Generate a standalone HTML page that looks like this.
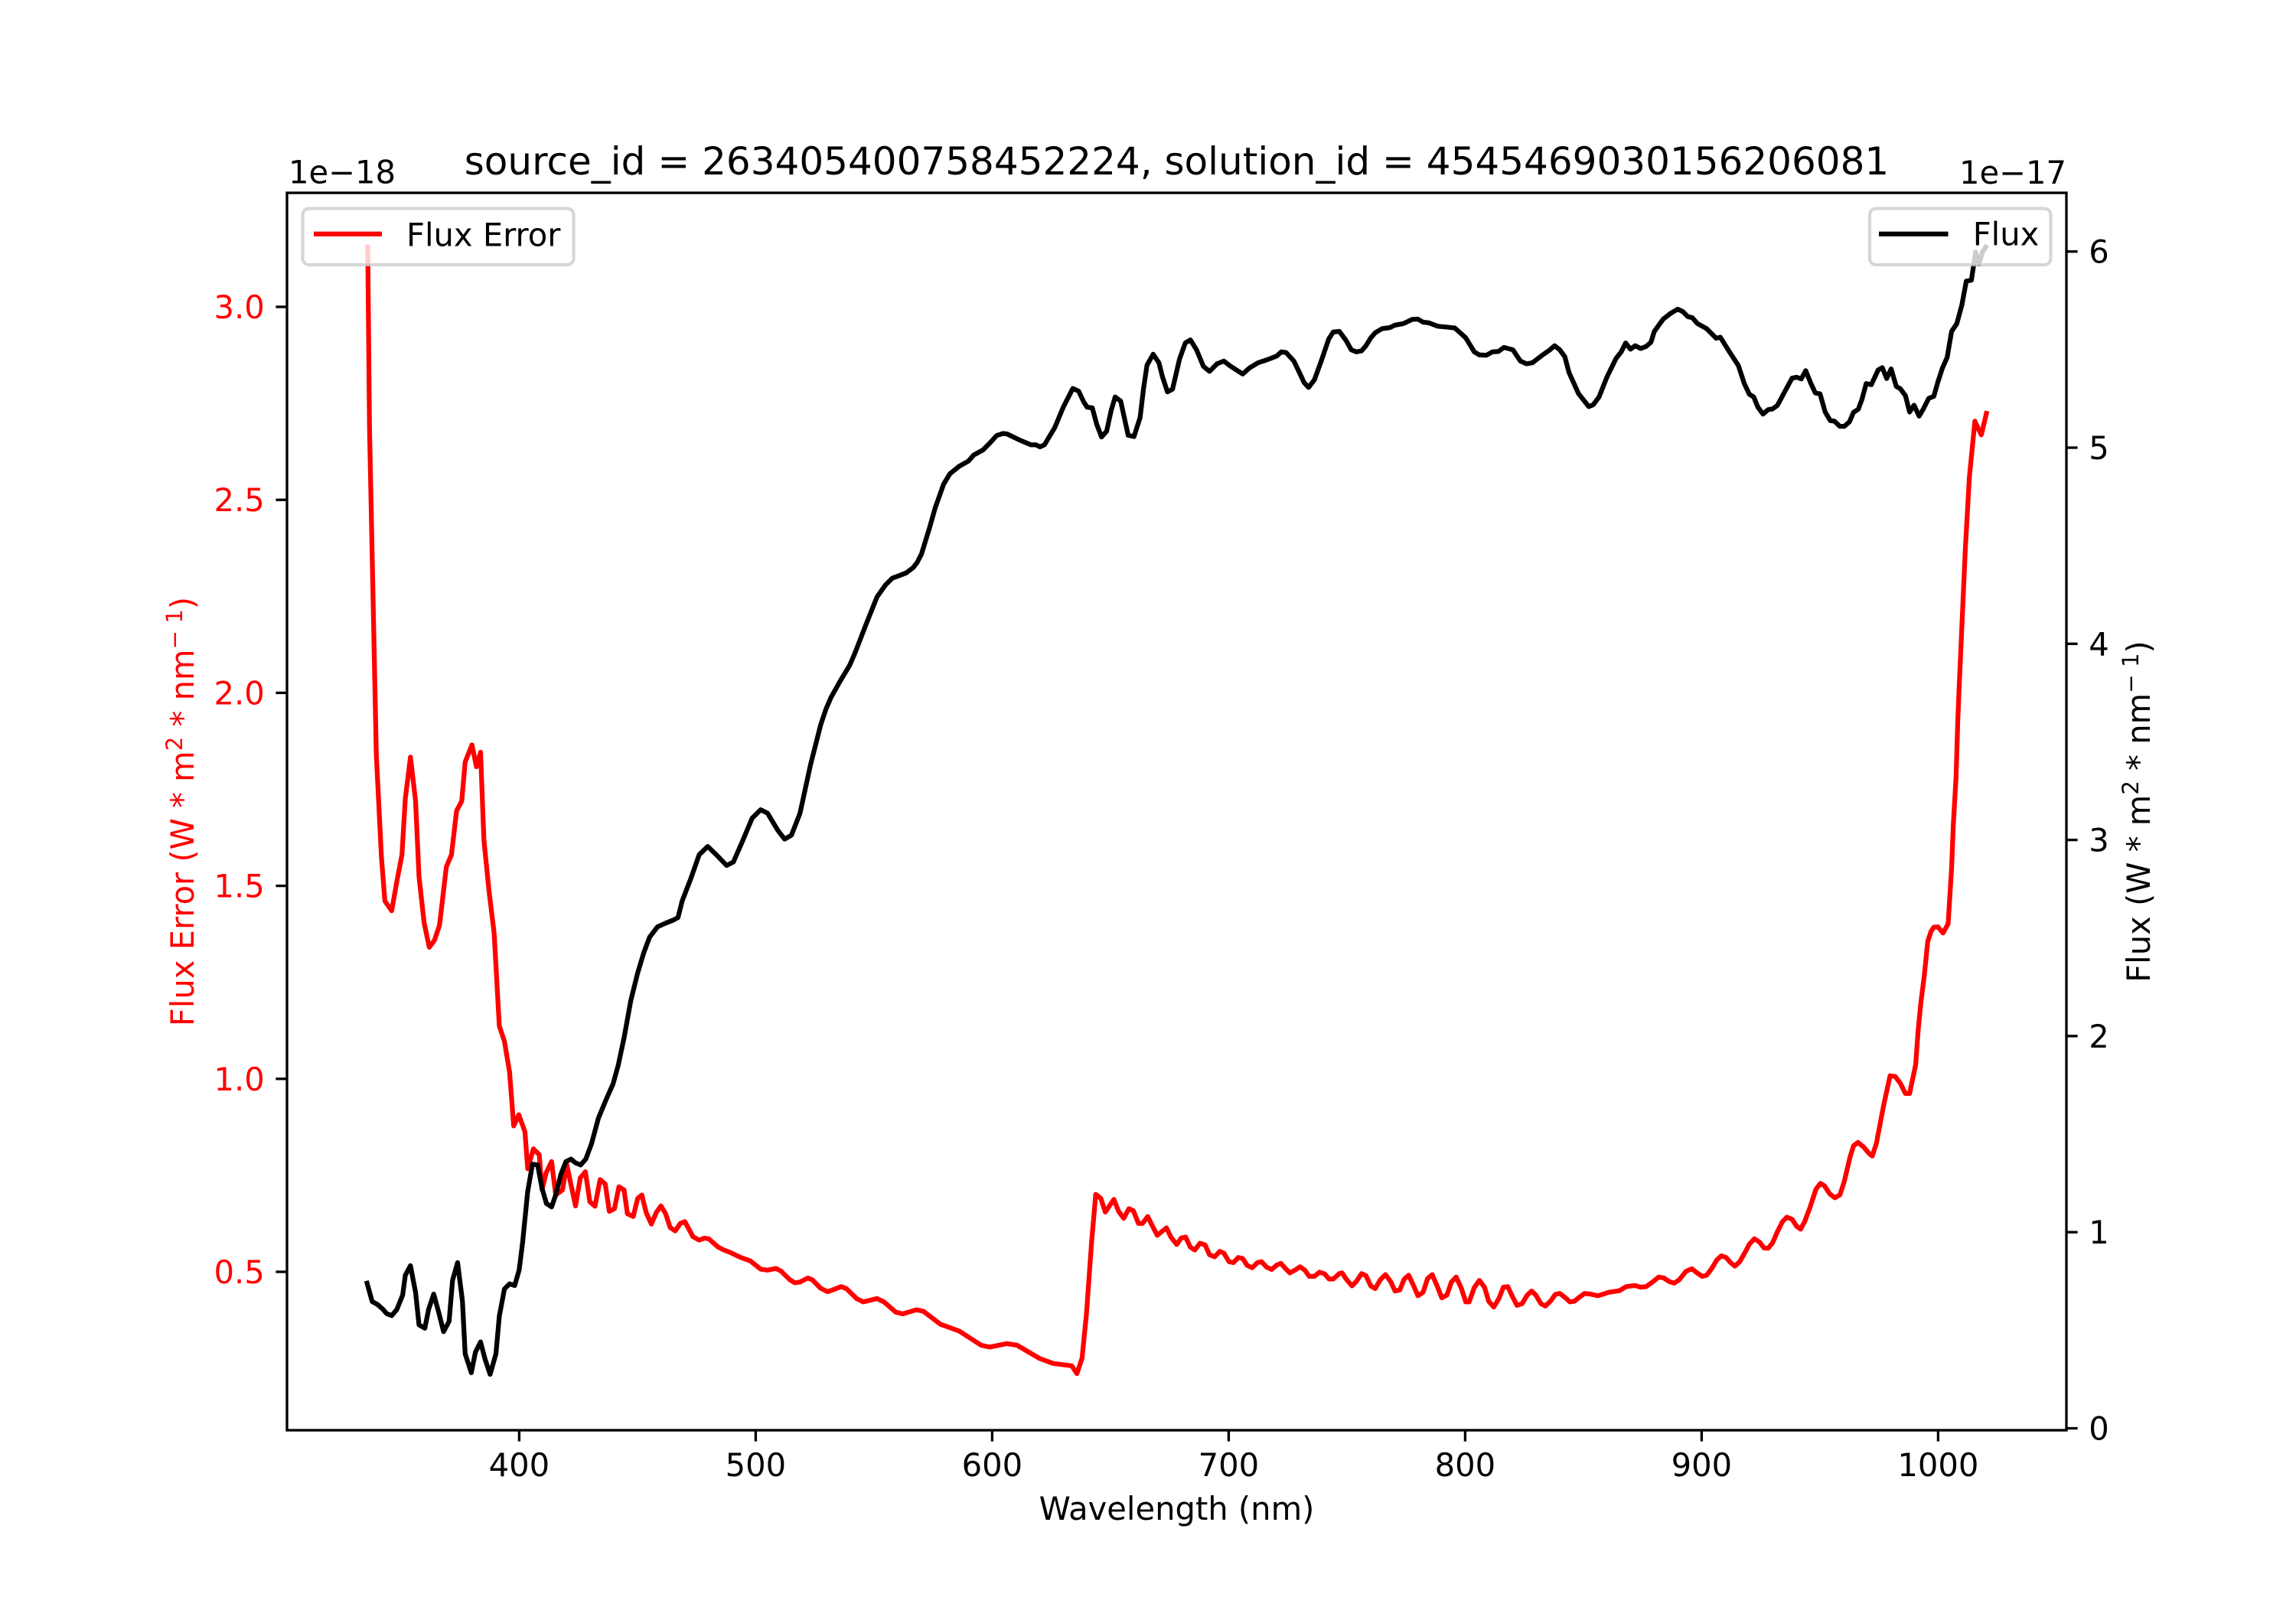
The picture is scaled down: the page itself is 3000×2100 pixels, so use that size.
<!DOCTYPE html>
<html>
<head>
<meta charset="utf-8">
<style>
html,body{margin:0;padding:0;background:#fff;}
svg{display:block;}
text{font-family:"DejaVu Sans","Liberation Sans",sans-serif;}
</style>
</head>
<body>
<svg xmlns="http://www.w3.org/2000/svg" width="3000" height="2100" viewBox="0 0 3000 2100">
<rect x="0" y="0" width="3000" height="2100" fill="#fff"/>

<!-- Red Flux Error line -->
<polyline fill="none" stroke="#ff0000" stroke-width="6.25" stroke-linejoin="round" stroke-linecap="square" points="
480.5,322.9 482.8,558.9 487.2,769.3 491.7,986.2 498.4,1120.1 502.9,1177.5 511.8,1190.2 518.5,1152 525.2,1117 529.6,1043.6 536.3,989.4 543,1046.8 547.5,1145.6 554.2,1206.2 560.9,1237.9 567.6,1229 574.3,1208.9 583.2,1132.8 589.9,1116.9 596.6,1059.5 603.3,1046.8 607.8,995.7 616.7,973.4 622.5,1002 627.9,983 632.3,1097.8 639,1164.7 645.7,1220 652.4,1340.6 659.1,1360.7 665.8,1400.9 671.2,1471.4 677.9,1456.7 685.9,1479 689.5,1527.2 697,1501.3 704.6,1508.9 708.2,1554.9 713.6,1532.6 720.7,1517.9 726.1,1561.6 735,1554.9 740.4,1521.4 752,1575.9 758.2,1539.3 764.9,1531.3 770.7,1570.5 777.4,1576.3 784.1,1541.5 790.8,1547.3 796.2,1583 802.9,1579.5 808.7,1550.9 815.4,1554.9 819.8,1586.2 827.4,1589.7 833.2,1566.1 838.6,1561.6 844.4,1584.8 851.1,1599.6 857.8,1583.9 863.6,1575.9 869.8,1586.2 875.6,1604 882.3,1608.5 889,1598.7 894.8,1596.4 905.5,1616.1 913.6,1620.5 920.3,1617.9 926,1618.8 938.1,1629.5 944.8,1633 953.8,1636.6 967.1,1642.9 980.5,1647.8 993.9,1658.5 1002.9,1659.8 1014,1657.6 1020.7,1661.2 1031.9,1672.3 1038.6,1676.3 1045.3,1675.4 1055.4,1670.1 1061.2,1672.3 1072.3,1683.5 1081.3,1688 1087.9,1685.7 1099.1,1681.3 1105.8,1683.9 1119.2,1696.9 1128.1,1701.3 1146,1696.9 1154.9,1701.3 1170.5,1714.7 1179.5,1717 1197.3,1711.6 1206.3,1713.4 1228.6,1730.4 1253.1,1739.3 1282.1,1758 1293.3,1760.3 1315.6,1755.8 1329,1758 1358,1775 1375.9,1781.7 1400.4,1784.8 1407.1,1795.1 1413.8,1775 1419.6,1717 1426.3,1623.2 1431.7,1560.7 1438.4,1566.1 1444.2,1583.9 1455.4,1567.4 1461.6,1583 1468.3,1592 1475,1579.5 1480.8,1582.1 1487.5,1598.7 1492.9,1598.7 1499.6,1589.7 1506.3,1603.1 1512.1,1614.3 1524.1,1604.5 1529.9,1616.5 1537.5,1626.3 1543.3,1617.9 1549.1,1616.5 1555.4,1629.9 1561.2,1633.5 1567.9,1624.6 1574.6,1626.8 1580.4,1639.7 1587.1,1642.4 1593.8,1635.3 1599.1,1637.5 1605.8,1648.7 1611.6,1650 1617.9,1643.3 1623.7,1644.6 1629.5,1653.6 1636.2,1656.7 1642.9,1650 1648.2,1648.7 1654.9,1655.8 1661.6,1658.9 1668.3,1653.1 1673.7,1650.9 1679.5,1657.6 1685.3,1663.4 1692,1659.8 1698.7,1655.4 1704.9,1659.8 1710.7,1667.9 1717.4,1667.9 1724.1,1662.5 1730.8,1664.7 1736.6,1671.4 1742,1671.4 1750,1664.3 1753.6,1663.4 1758.9,1671.4 1766.5,1680.4 1772.3,1674.6 1779,1664.3 1784.8,1667 1791.1,1680.4 1796.9,1683.9 1803.6,1672.3 1810.3,1665.6 1817,1674.6 1822.8,1687.1 1829,1685.7 1834.8,1671.4 1840.6,1666.5 1846.9,1679.9 1852.7,1693.3 1859.4,1688.8 1865.2,1671 1871.4,1665.6 1878.1,1681.3 1883.9,1696 1890.6,1692.4 1896.4,1675.4 1902.7,1668.8 1909.4,1683.5 1915.2,1701.3 1919.6,1701.3 1926.3,1682.6 1933,1673.2 1939.7,1682.1 1945.1,1700.4 1951.8,1708 1958.5,1696.9 1964.3,1682.1 1970.1,1681.3 1976.3,1694.6 1982.1,1705.8 1988.8,1703.6 1995.5,1692.4 2001.3,1687.1 2006.7,1692.4 2013.4,1703.6 2019.2,1706.7 2025.9,1700.4 2032.1,1691.5 2038,1690.2 2045.5,1696 2051.3,1701.3 2057.1,1700.4 2062.5,1696 2070.5,1690.2 2078.1,1691.1 2088,1693.3 2101.8,1688.8 2116.1,1686.6 2125,1681.3 2136.2,1679.9 2143.8,1682.1 2150.9,1681.3 2158.5,1675.9 2167.4,1668.8 2174.1,1670.1 2180.8,1674.6 2187.5,1676.8 2194.2,1672.3 2203.1,1661.2 2210.7,1658 2217.4,1663.4 2224.1,1667.9 2229.9,1666.5 2236.6,1657.6 2243.3,1646.4 2249.1,1641.1 2255.4,1643.3 2261.2,1650 2267,1654.5 2273.2,1648.7 2281.3,1634.4 2285.7,1625.9 2292.4,1618.8 2299.1,1623.2 2304.9,1630.8 2310.3,1631.3 2316.1,1624.1 2322.3,1609.8 2329,1596.4 2334.8,1590.6 2341.5,1593.3 2347.3,1602.2 2352.7,1606.3 2358,1596.4 2364.7,1578.6 2372.8,1554 2378.6,1546.4 2383.9,1549.6 2390.6,1559.8 2397.3,1565.2 2404,1561.6 2409.8,1543.8 2417.4,1511.6 2421.9,1497.3 2427.7,1492.9 2435.3,1499.1 2442,1507.1 2446.4,1510.7 2451.8,1493.8 2460.7,1446.9 2469.6,1405.8 2476.3,1406.7 2483,1415.6 2489.7,1429 2495.1,1429 2503.1,1391.1 2506.3,1346.4 2509.8,1310.7 2514.3,1275 2518.8,1230.4 2523.2,1217 2526.8,1211.6 2532.1,1211.2 2538.8,1219.2 2545.5,1207.1 2550,1134.4 2552.2,1078.6 2555.8,1016.1 2558,944.6 2559.8,900 2567.9,717.9 2573.2,624.1 2580.4,550.4 2588.8,568.3 2595.5,540.2"/>

<!-- Flux Error legend (ax) -->
<rect x="395.5" y="272.5" width="354" height="73.5" rx="8.3" ry="8.3" fill="#ffffff" fill-opacity="0.8" stroke="#cccccc" stroke-opacity="0.8" stroke-width="4.17"/>
<line x1="410" y1="305.7" x2="499" y2="305.7" stroke="#ff0000" stroke-width="6.25"/>
<text x="531" y="321.7" font-size="41.67" fill="#000">Flux Error</text>

<!-- Black Flux line -->
<polyline fill="none" stroke="#000000" stroke-width="6.25" stroke-linejoin="round" stroke-linecap="square" points="
479.6,1676.8 486.3,1700.9 493,1704.5 500.6,1711.2 505.1,1716.5 511.8,1719.2 518.5,1711.2 526.1,1692.4 529.6,1666.5 536.3,1654 543,1688.8 547.5,1731.3 555.1,1735.7 560,1711.2 566.7,1691.1 573.4,1715.6 579.6,1740.2 586.8,1726.8 591.3,1673.2 597.9,1650 604.2,1700 607.8,1769.2 615.8,1793.8 621.2,1767 627.9,1753.6 633.7,1775.9 640.4,1796 648,1769.2 652.4,1720.1 659.1,1684.4 665.8,1677.7 672.5,1679.9 678.3,1659.8 682.8,1624.1 689.5,1557.1 695.7,1521.4 702.5,1522.3 708.2,1552.7 714,1572.8 720.7,1577.2 726.1,1561.6 732.8,1534.8 739.5,1517.9 746.2,1514.7 752,1519.6 758.7,1522.3 765.4,1514.7 772.9,1494.6 781.9,1461.2 792.1,1436.6 801,1416.5 807.8,1392 815.4,1356.3 824.3,1307.1 833.2,1271.4 841.3,1244.6 848.8,1224.6 859.1,1211.2 868.9,1206.7 880.1,1202.2 885.9,1199 891.3,1177.5 902.4,1148.8 913.6,1116.9 924.7,1106.1 935.9,1116.9 949.3,1130.9 958.2,1126.5 969.4,1101 982.8,1069.1 993.9,1058.2 1002.9,1062.7 1016.3,1085 1025.2,1096.5 1034.1,1091.4 1045.3,1062.7 1058.9,1000 1072.3,947.3 1079,927.2 1085.7,911.6 1096.9,891.5 1110.3,869.2 1117,853.6 1132.6,813.4 1146,779.9 1157.1,764.3 1166.1,755.4 1175,752.2 1183.9,748.7 1192.9,742 1198.2,735.3 1204,724.1 1214.3,690.6 1221.9,663.8 1233,632.6 1241.1,619.2 1253.1,609.4 1265.2,602.7 1272.3,594.6 1284.4,588 1293.3,579 1302.2,569.2 1310.3,566.5 1315.6,567 1331.3,574.6 1346.9,581.3 1353.6,581.3 1358.9,583.9 1364.7,581.3 1378.1,558.9 1389.3,532.1 1401.8,507.6 1409.4,511.2 1416.1,525.4 1420.5,532.1 1427.2,533 1433,554.5 1439.3,571 1446,563.4 1451.8,536.6 1457.1,518.8 1464.3,524.1 1474.1,568.8 1481.7,570.5 1489.7,545.5 1494.2,507.6 1498.7,477.2 1506.7,462.9 1514.3,474.1 1518.8,492 1525.4,512.1 1532.1,508.5 1541.1,469.6 1548.7,448.2 1555.4,444.2 1563.4,457.1 1572.3,478.6 1580.4,485.3 1590.2,475.4 1599.1,471.9 1608,478.6 1616.1,483.9 1623.7,488.8 1632.6,480.8 1643.8,474.1 1657.1,469.6 1668.3,465.2 1674.1,459.8 1680.4,460.7 1690.6,471.9 1696.4,483.9 1704,500 1709.8,506.3 1717.4,496.4 1726.3,471.9 1736.2,442.9 1742,433.9 1750,433 1758.9,445.1 1765.6,457.1 1772.3,459.8 1779,458.5 1784.8,451.8 1791.1,441.5 1796.9,434.8 1805.8,429.5 1816.1,428.1 1822.3,425 1833.9,422.8 1845.1,417.4 1852.7,417 1859.4,421 1867,421.9 1878.6,426.3 1892.9,427.7 1900.9,428.6 1915.2,441.5 1926.3,459.8 1933,463.8 1942,464.3 1950,459.8 1957.6,459.4 1965.2,454 1976.8,457.1 1986.6,471.9 1994.6,475.4 2002.2,474.1 2015.6,463.8 2024.6,457.6 2031.3,451.8 2038,457.1 2044.6,466.1 2050,486.6 2062.5,514.3 2075.9,531.3 2081.7,529 2089.3,518.8 2099.6,492.9 2111.6,468.3 2118.3,459.8 2124.1,448.2 2130.4,456.3 2136.6,451.8 2143.8,455.4 2150.9,452.7 2157.1,447.3 2161.6,433 2173.2,417 2183,409.4 2192,404 2198.7,407.1 2205.4,413.8 2211.2,415.2 2217.9,422.8 2229.9,429.5 2236.6,436.2 2242.4,442 2247.8,440.6 2258.9,458.5 2271.4,477.7 2279,500.9 2285.7,515.2 2291.5,518.8 2296.9,532.1 2303.6,541.1 2310.3,535.3 2316.1,534.4 2322.3,529.9 2332.6,510.7 2341.5,494.2 2347.3,492.9 2353.6,495.1 2359.4,484.4 2366.1,500.9 2371.9,513.4 2378.1,514.7 2384.8,538.4 2391.5,549.6 2396.9,550.4 2404,557.1 2409.8,557.1 2416.5,551.3 2421.9,538.8 2428.1,534.8 2433,521.4 2438.4,501.3 2445.1,502.7 2454,483.5 2459.4,480.4 2465.2,494.6 2471,482.1 2477.7,504.9 2483,508 2489.7,517 2495.1,538.4 2500.9,529.5 2507.6,543.8 2513.4,533.9 2520.1,520.5 2526.8,517.9 2532.1,499.1 2537.9,481.3 2544.2,467 2550,433 2556.7,423.2 2563.4,398.7 2569.2,367.4 2575.9,366.1 2581.3,329.5 2585.7,345.1 2590.2,329.5 2594.6,322.8"/>

<!-- Flux legend (ax2) -->
<rect x="2443" y="272.5" width="236.5" height="73.5" rx="8.3" ry="8.3" fill="#ffffff" fill-opacity="0.8" stroke="#cccccc" stroke-opacity="0.8" stroke-width="4.17"/>
<line x1="2455" y1="305.8" x2="2545.5" y2="305.8" stroke="#000000" stroke-width="6.25"/>
<text x="2577.7" y="320.5" font-size="41.67" fill="#000">Flux</text>

<!-- Spines -->
<rect x="375" y="252" width="2325" height="1617" fill="none" stroke="#000" stroke-width="3.33"/>

<!-- X ticks -->
<g stroke="#000" stroke-width="3.33">
<line x1="678.4" y1="1869" x2="678.4" y2="1883.6"/>
<line x1="987.4" y1="1869" x2="987.4" y2="1883.6"/>
<line x1="1296.4" y1="1869" x2="1296.4" y2="1883.6"/>
<line x1="1605.4" y1="1869" x2="1605.4" y2="1883.6"/>
<line x1="1914.4" y1="1869" x2="1914.4" y2="1883.6"/>
<line x1="2223.4" y1="1869" x2="2223.4" y2="1883.6"/>
<line x1="2532.4" y1="1869" x2="2532.4" y2="1883.6"/>
</g>
<g font-size="41.67" fill="#000" text-anchor="middle">
<text x="678.4" y="1929">400</text>
<text x="987.4" y="1929">500</text>
<text x="1296.4" y="1929">600</text>
<text x="1605.4" y="1929">700</text>
<text x="1914.4" y="1929">800</text>
<text x="2223.4" y="1929">900</text>
<text x="2532.4" y="1929">1000</text>
</g>
<text x="1537.5" y="1986" font-size="41.67" fill="#000" text-anchor="middle">Wavelength (nm)</text>

<!-- Left Y ticks (Flux Error) -->
<g stroke="#000" stroke-width="3.33">
<line x1="360.4" y1="1662" x2="375" y2="1662"/>
<line x1="360.4" y1="1409.8" x2="375" y2="1409.8"/>
<line x1="360.4" y1="1157.6" x2="375" y2="1157.6"/>
<line x1="360.4" y1="905.4" x2="375" y2="905.4"/>
<line x1="360.4" y1="653.2" x2="375" y2="653.2"/>
<line x1="360.4" y1="401" x2="375" y2="401"/>
</g>
<g font-size="41.67" fill="#ff0000" text-anchor="end">
<text x="345.8" y="1677">0.5</text>
<text x="345.8" y="1424.8">1.0</text>
<text x="345.8" y="1172.6">1.5</text>
<text x="345.8" y="920.4">2.0</text>
<text x="345.8" y="668.2">2.5</text>
<text x="345.8" y="416">3.0</text>
</g>
<text x="377" y="239.3" font-size="41.67" fill="#000">1e−18</text>
<text transform="translate(253,1060.5) rotate(-90)" font-size="41.67" fill="#ff0000" text-anchor="middle">Flux Error (W * m<tspan font-size="29.2" dy="-15">2</tspan><tspan dy="15"> * nm</tspan><tspan font-size="29.2" dy="-15">− 1</tspan><tspan dy="15">)</tspan></text>

<!-- Right Y ticks (Flux) -->
<g stroke="#000" stroke-width="3.33">
<line x1="2700" y1="1866.5" x2="2714.6" y2="1866.5"/>
<line x1="2700" y1="1610.2" x2="2714.6" y2="1610.2"/>
<line x1="2700" y1="1353.9" x2="2714.6" y2="1353.9"/>
<line x1="2700" y1="1097.6" x2="2714.6" y2="1097.6"/>
<line x1="2700" y1="841.3" x2="2714.6" y2="841.3"/>
<line x1="2700" y1="585" x2="2714.6" y2="585"/>
<line x1="2700" y1="328.7" x2="2714.6" y2="328.7"/>
</g>
<g font-size="41.67" fill="#000" text-anchor="start">
<text x="2729.3" y="1881.5">0</text>
<text x="2729.3" y="1625.2">1</text>
<text x="2729.3" y="1368.9">2</text>
<text x="2729.3" y="1112.6">3</text>
<text x="2729.3" y="856.3">4</text>
<text x="2729.3" y="600">5</text>
<text x="2729.3" y="343.7">6</text>
</g>
<text x="2700" y="240" font-size="41.67" fill="#000" text-anchor="end">1e−17</text>
<text transform="translate(2809,1060.5) rotate(-90)" font-size="41.67" fill="#000" text-anchor="middle">Flux (W * m<tspan font-size="29.2" dy="-15">2</tspan><tspan dy="15"> * nm</tspan><tspan font-size="29.2" dy="-15">− 1</tspan><tspan dy="15">)</tspan></text>

<!-- Title -->
<text x="1537.5" y="228" font-size="50" fill="#000" text-anchor="middle">source_id = 263405400758452224, solution_id = 4545469030156206081</text>
</svg>
</body>
</html>
